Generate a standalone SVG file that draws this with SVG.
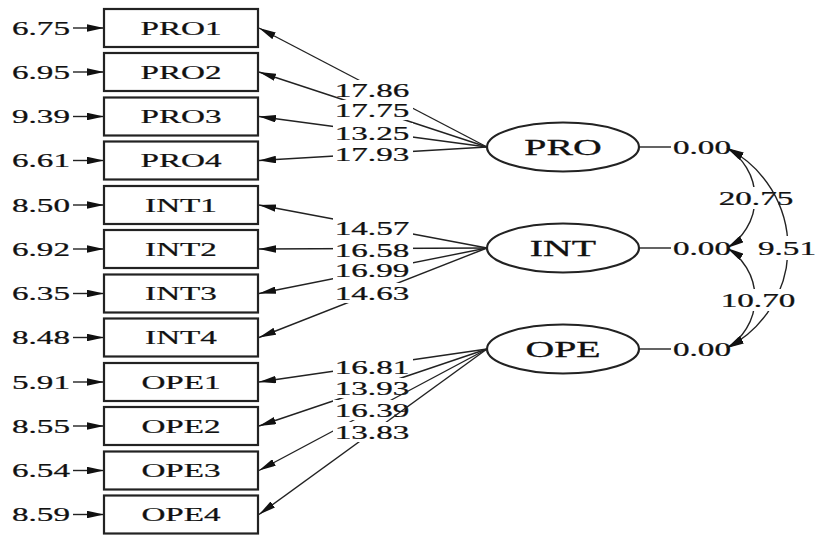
<svg xmlns="http://www.w3.org/2000/svg" width="818" height="536" viewBox="0 0 818 536">
<style>
.t{font-family:"Liberation Serif","Times New Roman",serif;font-size:19.5px;fill:#111;stroke:#111;stroke-width:0.25}
.tl{font-family:"Liberation Serif","Times New Roman",serif;font-size:24px;fill:#111;stroke:#111;stroke-width:0.3}
.box{fill:#fff;stroke:#222;stroke-width:2.2}
.ell{fill:#fff;stroke:#222;stroke-width:2.2}
.ln{fill:none;stroke:#222;stroke-width:1.4}
.bg{fill:#fff}
.a{marker-end:url(#ah)}
.aa{marker-start:url(#ah);marker-end:url(#ah)}
</style>
<defs>
<marker id="ah" markerUnits="userSpaceOnUse" viewBox="0 0 17 7.5" refX="17" refY="3.75" markerWidth="17" markerHeight="7.5" orient="auto-start-reverse">
<path d="M0,0 L17,3.75 L0,7.5 z" fill="#111"/>
</marker>
</defs>
<rect width="818" height="536" fill="#fff"/>

<g id="connectors">
<path class="ln a" d="M73,28 L104,28"/>
<path class="ln a" d="M73,72 L104,72"/>
<path class="ln a" d="M73,116.5 L104,116.5"/>
<path class="ln a" d="M73,160.5 L104,160.5"/>
<path class="ln a" d="M73,205 L104,205"/>
<path class="ln a" d="M73,249 L104,249"/>
<path class="ln a" d="M73,293.5 L104,293.5"/>
<path class="ln a" d="M73,337.5 L104,337.5"/>
<path class="ln a" d="M73,382 L104,382"/>
<path class="ln a" d="M73,426 L104,426"/>
<path class="ln a" d="M73,470.5 L104,470.5"/>
<path class="ln a" d="M73,514.5 L104,514.5"/>
<g><path class="ln a" d="M487,147 L259,28"/><rect class="bg" x="333" y="80" width="80" height="20"/><text class="t" transform="translate(372,96.5) scale(1.7,1)" text-anchor="middle">17.86</text></g>
<g><path class="ln a" d="M487,147 L259,72"/><rect class="bg" x="333" y="100" width="80" height="20"/><text class="t" transform="translate(372,116.5) scale(1.7,1)" text-anchor="middle">17.75</text></g>
<g><path class="ln a" d="M487,147 L259,116.5"/><rect class="bg" x="333" y="123" width="80" height="20"/><text class="t" transform="translate(372,139.5) scale(1.7,1)" text-anchor="middle">13.25</text></g>
<g><path class="ln a" d="M487,147 L259,160.5"/><rect class="bg" x="333" y="144" width="80" height="20"/><text class="t" transform="translate(372,160.5) scale(1.7,1)" text-anchor="middle">17.93</text></g>
<g><path class="ln a" d="M487,248 L259,205"/><rect class="bg" x="333" y="218" width="80" height="20"/><text class="t" transform="translate(372,234.5) scale(1.7,1)" text-anchor="middle">14.57</text></g>
<g><path class="ln a" d="M487,248 L259,249"/><rect class="bg" x="333" y="240" width="80" height="20"/><text class="t" transform="translate(372,256.5) scale(1.7,1)" text-anchor="middle">16.58</text></g>
<g><path class="ln a" d="M487,248 L259,293.5"/><rect class="bg" x="333" y="260" width="80" height="20"/><text class="t" transform="translate(372,276.5) scale(1.7,1)" text-anchor="middle">16.99</text></g>
<g><path class="ln a" d="M487,248 L259,337.5"/><rect class="bg" x="333" y="283" width="80" height="20"/><text class="t" transform="translate(372,299.5) scale(1.7,1)" text-anchor="middle">14.63</text></g>
<g><path class="ln a" d="M487,349 L259,382"/><rect class="bg" x="333" y="357" width="80" height="20"/><text class="t" transform="translate(372,373.5) scale(1.7,1)" text-anchor="middle">16.81</text></g>
<g><path class="ln a" d="M487,349 L259,426"/><rect class="bg" x="333" y="378" width="80" height="20"/><text class="t" transform="translate(372,394.5) scale(1.7,1)" text-anchor="middle">13.93</text></g>
<g><path class="ln a" d="M487,349 L259,470.5"/><rect class="bg" x="333" y="400" width="80" height="20"/><text class="t" transform="translate(372,416.5) scale(1.7,1)" text-anchor="middle">16.39</text></g>
<g><path class="ln a" d="M487,349 L259,514.5"/><rect class="bg" x="333" y="422" width="80" height="20"/><text class="t" transform="translate(372,438.5) scale(1.7,1)" text-anchor="middle">13.83</text></g>
<path class="ln" d="M639,147 L671,147"/>
<path class="ln" d="M639,248 L671,248"/>
<path class="ln" d="M639,349 L671,349"/>
</g>

<g id="variances">
<text class="t" transform="translate(673,153.5) scale(1.7,1)">0.00</text>
<text class="t" transform="translate(673,254.5) scale(1.7,1)">0.00</text>
<text class="t" transform="translate(673,355.5) scale(1.7,1)">0.00</text>
</g>

<g id="covariances">
<g><path class="ln aa" d="M727,148 A58.6,58.6 0 0 1 727,248"/><rect class="bg" x="716" y="187" width="81" height="22"/><text class="t" transform="translate(756,204.5) scale(1.7,1)" text-anchor="middle">20.75</text></g>
<g><path class="ln aa" d="M727,148 A112.5,112.5 0 0 1 727,348"/><rect class="bg" x="756" y="236" width="61" height="24"/><text class="t" transform="translate(787,254.5) scale(1.7,1)" text-anchor="middle">9.51</text></g>
<g><path class="ln aa" d="M727,248 A58.6,58.6 0 0 1 727,348"/><rect class="bg" x="718" y="289" width="81" height="22"/><text class="t" transform="translate(758,306.5) scale(1.7,1)" text-anchor="middle">10.70</text></g>
</g>

<g id="err-PRO1"><text class="t" transform="translate(70,34.5) scale(1.7,1)" text-anchor="end">6.75</text></g>
<g id="err-PRO2"><text class="t" transform="translate(70,78.5) scale(1.7,1)" text-anchor="end">6.95</text></g>
<g id="err-PRO3"><text class="t" transform="translate(70,123) scale(1.7,1)" text-anchor="end">9.39</text></g>
<g id="err-PRO4"><text class="t" transform="translate(70,167) scale(1.7,1)" text-anchor="end">6.61</text></g>
<g id="err-INT1"><text class="t" transform="translate(70,211.5) scale(1.7,1)" text-anchor="end">8.50</text></g>
<g id="err-INT2"><text class="t" transform="translate(70,255.5) scale(1.7,1)" text-anchor="end">6.92</text></g>
<g id="err-INT3"><text class="t" transform="translate(70,300) scale(1.7,1)" text-anchor="end">6.35</text></g>
<g id="err-INT4"><text class="t" transform="translate(70,344) scale(1.7,1)" text-anchor="end">8.48</text></g>
<g id="err-OPE1"><text class="t" transform="translate(70,388.5) scale(1.7,1)" text-anchor="end">5.91</text></g>
<g id="err-OPE2"><text class="t" transform="translate(70,432.5) scale(1.7,1)" text-anchor="end">8.55</text></g>
<g id="err-OPE3"><text class="t" transform="translate(70,477) scale(1.7,1)" text-anchor="end">6.54</text></g>
<g id="err-OPE4"><text class="t" transform="translate(70,521) scale(1.7,1)" text-anchor="end">8.59</text></g>

<g id="PRO1"><rect class="box" x="104" y="9" width="154" height="38"/><text class="t" transform="translate(181,34.5) scale(1.7,1)" text-anchor="middle">PRO1</text></g>
<g id="PRO2"><rect class="box" x="104" y="53" width="154" height="38"/><text class="t" transform="translate(181,78.5) scale(1.7,1)" text-anchor="middle">PRO2</text></g>
<g id="PRO3"><rect class="box" x="104" y="97.5" width="154" height="38"/><text class="t" transform="translate(181,123) scale(1.7,1)" text-anchor="middle">PRO3</text></g>
<g id="PRO4"><rect class="box" x="104" y="141.5" width="154" height="38"/><text class="t" transform="translate(181,167) scale(1.7,1)" text-anchor="middle">PRO4</text></g>
<g id="INT1"><rect class="box" x="104" y="186" width="154" height="38"/><text class="t" transform="translate(181,211.5) scale(1.7,1)" text-anchor="middle">INT1</text></g>
<g id="INT2"><rect class="box" x="104" y="230" width="154" height="38"/><text class="t" transform="translate(181,255.5) scale(1.7,1)" text-anchor="middle">INT2</text></g>
<g id="INT3"><rect class="box" x="104" y="274.5" width="154" height="38"/><text class="t" transform="translate(181,300) scale(1.7,1)" text-anchor="middle">INT3</text></g>
<g id="INT4"><rect class="box" x="104" y="318.5" width="154" height="38"/><text class="t" transform="translate(181,344) scale(1.7,1)" text-anchor="middle">INT4</text></g>
<g id="OPE1"><rect class="box" x="104" y="363" width="154" height="38"/><text class="t" transform="translate(181,388.5) scale(1.7,1)" text-anchor="middle">OPE1</text></g>
<g id="OPE2"><rect class="box" x="104" y="407" width="154" height="38"/><text class="t" transform="translate(181,432.5) scale(1.7,1)" text-anchor="middle">OPE2</text></g>
<g id="OPE3"><rect class="box" x="104" y="451.5" width="154" height="38"/><text class="t" transform="translate(181,477) scale(1.7,1)" text-anchor="middle">OPE3</text></g>
<g id="OPE4"><rect class="box" x="104" y="495.5" width="154" height="38"/><text class="t" transform="translate(181,521) scale(1.7,1)" text-anchor="middle">OPE4</text></g>

<g id="PRO"><ellipse class="ell" cx="563" cy="147" rx="76" ry="24.5"/><text class="tl" transform="translate(563,155) scale(1.66,1)" text-anchor="middle">PRO</text></g>
<g id="INT"><ellipse class="ell" cx="563" cy="248" rx="76" ry="24.5"/><text class="tl" transform="translate(563,256) scale(1.66,1)" text-anchor="middle">INT</text></g>
<g id="OPE"><ellipse class="ell" cx="563" cy="349" rx="76" ry="24.5"/><text class="tl" transform="translate(563,357) scale(1.66,1)" text-anchor="middle">OPE</text></g>
</svg>
